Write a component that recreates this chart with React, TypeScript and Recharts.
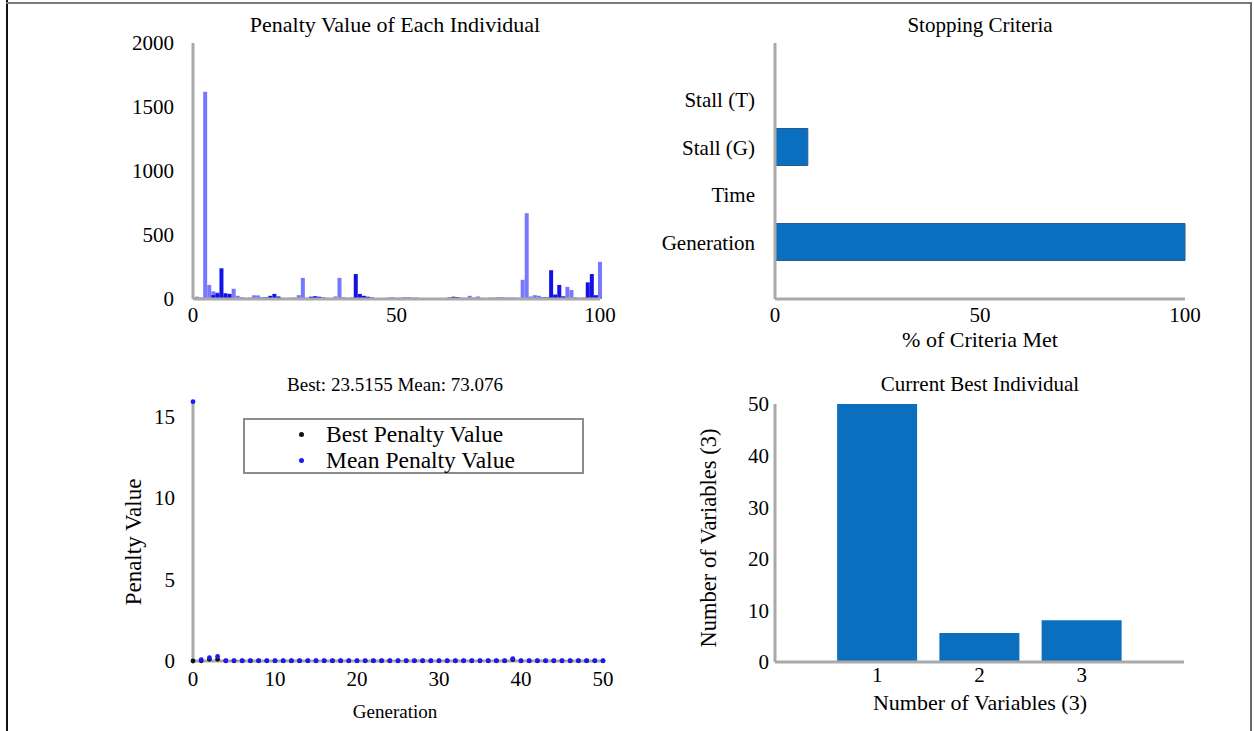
import React from 'react';
import { BarChart, Bar, XAxis, YAxis, ScatterChart, Scatter, Legend } from 'recharts';

const FONT = '"Liberation Serif", "Times New Roman", serif';
const AXIS_LINE = { stroke: '#a9a9a9', strokeWidth: 3 };
const BLUE = '#0b6fc0';

// Top-left: penalty value of each individual (1..100)
const individualIds = Array.from({ length: 100 }, (_, i) => i + 1);
const lightPenalty = [
  18, 12, 1620, 110, 60, 50, 30, 25, 20, 80,
  25, 15, 10, 12, 30, 28, 15, 12, 12, 15,
  10, 10, 8, 10, 12, 30, 165, 10, 10, 10,
  10, 10, 10, 8, 20, 165, 15, 10, 10, 20,
  15, 12, 10, 10, 8, 8, 8, 12, 15, 10,
  8, 8, 8, 8, 8, 6, 6, 6, 6, 6,
  6, 8, 10, 12, 10, 8, 10, 25, 12, 20,
  10, 8, 8, 8, 8, 8, 8, 8, 8, 10,
  150, 670, 20, 30, 25, 15, 12, 20, 15, 12,
  20, 95, 70, 15, 10, 12, 20, 20, 15, 290,
];
const darkPenalty = [
  0, 0, 0, 0, 30, 45, 240, 45, 40, 0,
  0, 0, 0, 0, 0, 0, 8, 12, 25, 40,
  20, 0, 0, 0, 0, 0, 0, 0, 18, 22,
  18, 12, 0, 0, 0, 0, 0, 0, 10, 195,
  40, 25, 18, 12, 0, 0, 0, 0, 0, 0,
  10, 12, 12, 10, 10, 0, 0, 0, 0, 0,
  0, 0, 12, 18, 15, 10, 0, 0, 0, 0,
  0, 0, 10, 10, 12, 12, 10, 10, 10, 0,
  0, 0, 0, 0, 0, 10, 12, 225, 35, 110,
  20, 0, 0, 0, 0, 0, 130, 195, 30, 0,
];
const penaltyTicksY = [0, 500, 1000, 1500, 2000];
const penaltyTicksX = [0, 50, 100];

// Top-right: stopping criteria
const criteriaNames = ['Stall (T)', 'Stall (G)', 'Time', 'Generation'];
const criteriaMet = [0, 8, 0, 100];
const criteriaTicks = [0, 50, 100];

// Bottom-left: best / mean penalty per generation (0..50)
const generations = Array.from({ length: 51 }, (_, i) => i);
const bestPenalty = [
  0, 0.01, 0.1, 0.1, 0.01, 0.01, 0.01, 0.01, 0.01, 0.01,
  0.01, 0.01, 0.01, 0.01, 0.01, 0.01, 0.01, 0.01, 0.01, 0.01,
  0.01, 0.01, 0.01, 0.01, 0.01, 0.01, 0.01, 0.01, 0.01, 0.01,
  0.01, 0.01, 0.01, 0.01, 0.01, 0.01, 0.01, 0.01, 0.01, 0.08,
  0.01, 0.01, 0.01, 0.01, 0.01, 0.01, 0.01, 0.01, 0.01, 0.01,
  0.01,
];
const meanPenalty = [
  15.9, 0.08, 0.2, 0.28, 0.02, 0.02, 0.02, 0.02, 0.02, 0.02,
  0.02, 0.02, 0.02, 0.02, 0.02, 0.02, 0.02, 0.02, 0.02, 0.02,
  0.02, 0.02, 0.02, 0.02, 0.02, 0.02, 0.02, 0.02, 0.02, 0.02,
  0.02, 0.02, 0.02, 0.02, 0.02, 0.02, 0.02, 0.02, 0.02, 0.15,
  0.02, 0.02, 0.02, 0.02, 0.02, 0.02, 0.02, 0.02, 0.02, 0.02,
  0.02,
];
const genTicksX = [0, 10, 20, 30, 40, 50];
const genTicksY = [0, 5, 10, 15];

// Bottom-right: current best individual
const variableIds = [1, 2, 3];
const variableValues = [50, 5.6, 8.1];
const variableTicksY = [0, 10, 20, 30, 40, 50];

const penaltyData = individualIds.map((id, i) => ({ id, light: lightPenalty[i], dark: darkPenalty[i] }));
const criteriaData = criteriaNames.map((name, i) => ({ name, v: criteriaMet[i] }));
const bestData = generations.map((g, i) => ({ g, v: bestPenalty[i] }));
const meanData = generations.map((g, i) => ({ g, v: meanPenalty[i] }));
const variableData = variableIds.map((k, i) => ({ k, v: variableValues[i] }));

const tickStyle = { fill: '#000', fontSize: 21, fontFamily: FONT };

function Txt({ x, y, size, rotate = 0, children }: any) {
  return (
    <div
      style={{
        position: 'absolute',
        left: x,
        top: y,
        transform: `translate(-50%, -50%) rotate(${rotate}deg)`,
        fontSize: size,
        lineHeight: 1,
        whiteSpace: 'nowrap',
        fontFamily: FONT,
        color: '#000',
      }}
    >
      {children}
    </div>
  );
}

const Dot = (color: string) => (props: any) => (
  <circle cx={props.cx} cy={props.cy} r={2.4} fill={color} />
);

function LegendBox() {
  const rows = [
    { label: 'Best Penalty Value', color: '#111' },
    { label: 'Mean Penalty Value', color: '#1a1aff' },
  ];
  return (
    <div
      style={{
        width: 337,
        height: 52,
        border: '2px solid #8c8c8c',
        background: '#fff',
        fontFamily: FONT,
        fontSize: 23.5,
        position: 'relative',
      }}
    >
      {rows.map((r, i) => (
        <div key={r.label} style={{ position: 'absolute', left: 0, top: 2 + i * 26, height: 24, display: 'flex', alignItems: 'center' }}>
          <span style={{ display: 'inline-block', width: 5, height: 5, borderRadius: 3, background: r.color, marginLeft: 54, marginRight: 22 }} />
          <span style={{ color: '#000' }}>{r.label}</span>
        </div>
      ))}
    </div>
  );
}

export default function App() {
  return (
    <div style={{ position: 'absolute', left: 0, top: 0, width: 1254, height: 731, background: '#fff', overflow: 'hidden', fontFamily: FONT }}>
      {/* frame */}
      <div style={{ position: 'absolute', left: 6, top: 0, width: 2, height: 731, background: '#111' }} />
      <div style={{ position: 'absolute', left: 6, top: 2, width: 1246, height: 2, background: '#7a7a7a' }} />
      <div style={{ position: 'absolute', left: 1250, top: 2, width: 2, height: 729, background: '#6a6a6a' }} />

      {/* Top-left */}
      <div style={{ position: 'absolute', left: 0, top: 0 }}>
        <BarChart width={640} height={340} data={penaltyData} margin={{ top: 43, right: 40, bottom: 0, left: 0 }} barGap={-4}>
          <XAxis type="number" dataKey="id" domain={[0, 100]} ticks={penaltyTicksX} height={41} tickLine={false} axisLine={AXIS_LINE} tick={tickStyle} tickSize={6} tickMargin={2} interval={0} />
          <YAxis type="number" domain={[0, 2000]} ticks={penaltyTicksY} width={193} tickLine={false} axisLine={AXIS_LINE} tick={tickStyle} tickSize={6} tickMargin={13} interval={0} />
          <Bar dataKey="light" fill="#7878ff" barSize={4} isAnimationActive={false} />
          <Bar dataKey="dark" fill="#1212e6" barSize={4} isAnimationActive={false} />
        </BarChart>
      </div>
      <Txt x={395} y={25} size={22}>Penalty Value of Each Individual</Txt>

      {/* Top-right */}
      <div style={{ position: 'absolute', left: 640, top: 0 }}>
        <BarChart width={614} height={360} data={criteriaData} layout="vertical" margin={{ top: 43, right: 69, bottom: 0, left: 0 }}>
          <XAxis type="number" domain={[0, 100]} ticks={criteriaTicks} height={61} tickLine={false} axisLine={AXIS_LINE} tick={tickStyle} tickSize={6} tickMargin={2} interval={0} />
          <YAxis type="category" dataKey="name" width={135} padding={{ top: 33, bottom: 33 }} tickLine={false} axisLine={AXIS_LINE} tick={tickStyle} tickSize={6} tickMargin={14} interval={0} />
          <Bar dataKey="v" fill={BLUE} stroke="#2a5a90" strokeWidth={1} barSize={37} isAnimationActive={false} />
        </BarChart>
      </div>
      <Txt x={980} y={25} size={21}>Stopping Criteria</Txt>
      <Txt x={980} y={340} size={22}>% of Criteria Met</Txt>

      {/* Bottom-left */}
      <div style={{ position: 'absolute', left: 0, top: 360 }}>
        <ScatterChart width={640} height={371} margin={{ top: 40, right: 37, bottom: 0, left: 0 }}>
          <XAxis type="number" dataKey="g" domain={[0, 50]} ticks={genTicksX} height={70} tickLine={false} axisLine={AXIS_LINE} tick={tickStyle} tickSize={6} tickMargin={4} interval={0} />
          <YAxis type="number" dataKey="v" domain={[0, 16]} ticks={genTicksY} width={193} tickLine={false} axisLine={AXIS_LINE} tick={tickStyle} tickSize={6} tickMargin={12} interval={0} />
          <Legend
            layout="horizontal"
            verticalAlign="middle"
            align="center"
            wrapperStyle={{ position: 'absolute', left: 243, top: 58, width: 341, height: 56 }}
            content={() => <LegendBox />}
          />
          <Scatter name="Best Penalty Value" data={bestData} fill="#111" shape={Dot('#111')} isAnimationActive={false} />
          <Scatter name="Mean Penalty Value" data={meanData} fill="#1a1aff" shape={Dot('#1a1aff')} isAnimationActive={false} />
        </ScatterChart>
      </div>
      <Txt x={395} y={384} size={19}>Best: 23.5155 Mean: 73.076</Txt>
      <Txt x={395} y={711} size={19}>Generation</Txt>
      <Txt x={133} y={542} size={23}>
        <span style={{ display: 'inline-block', transform: 'rotate(-90deg)' }}>Penalty Value</span>
      </Txt>

      {/* Bottom-right */}
      <div style={{ position: 'absolute', left: 640, top: 360 }}>
        <BarChart width={614} height={371} data={variableData} margin={{ top: 44, right: 70, bottom: 0, left: 0 }}>
          <XAxis type="number" dataKey="k" domain={[0, 4]} ticks={variableIds} height={69} tickLine={false} axisLine={AXIS_LINE} tick={tickStyle} tickSize={5} tickMargin={0} interval={0} />
          <YAxis type="number" domain={[0, 50]} ticks={variableTicksY} width={135} tickLine={false} axisLine={AXIS_LINE} tick={tickStyle} tickSize={6} tickMargin={0} interval={0} />
          <Bar dataKey="v" fill={BLUE} barSize={80} isAnimationActive={false} />
        </BarChart>
      </div>
      <Txt x={980} y={384} size={21}>Current Best Individual</Txt>
      <Txt x={980} y={703} size={22}>Number of Variables (3)</Txt>
      <Txt x={709} y={538} size={22.5} rotate={-90}>Number of Variables (3)</Txt>
    </div>
  );
}
